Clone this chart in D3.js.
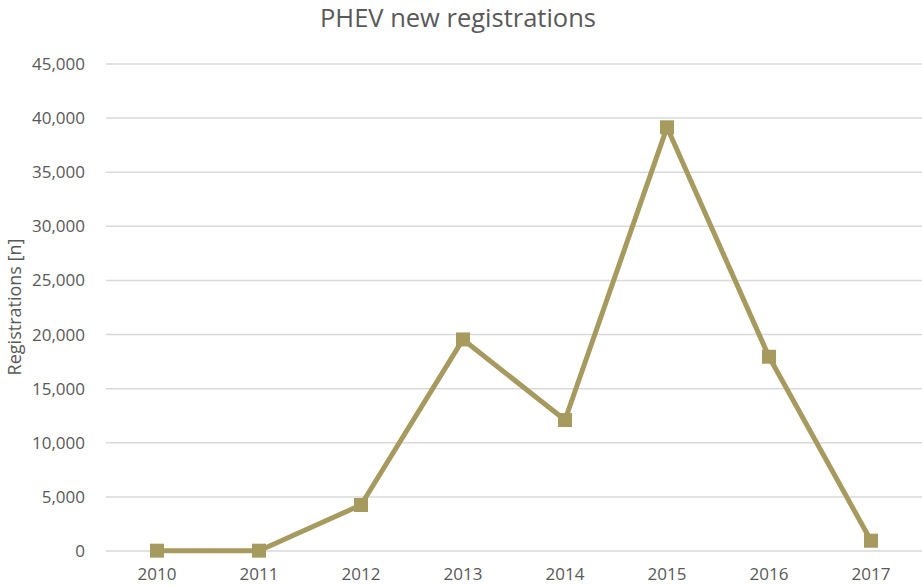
<!DOCTYPE html>
<html>
<head>
<meta charset="utf-8">
<script src="https://cdn.jsdelivr.net/npm/d3@7"></script>
<style>
  body { margin: 0; background: #fff; }
  svg { display: block; font-family: "Open Sans", "Noto Sans", sans-serif; }
  .tick text { fill: #595959; font-size: 17px; font-family: "Open Sans", "Noto Sans", sans-serif; }
</style>
</head>
<body>
<svg id="chart" width="922" height="587"></svg>
<script>
const years = ['2010', '2011', '2012', '2013', '2014', '2015', '2016', '2017'];
const registrations = [30, 30, 4250, 19550, 12100, 39150, 17950, 950];
const yTicks = [0, 5000, 10000, 15000, 20000, 25000, 30000, 35000, 40000, 45000];

const svg = d3.select('#chart');
const margin = {top: 64, right: 0, bottom: 36, left: 106};
const width = 922 - margin.left - margin.right;
const height = 587 - margin.top - margin.bottom;

const x = d3.scaleBand().domain(years).range([0, width]);
const y = d3.scaleLinear().domain([0, 45000]).range([height, 0]);

const g = svg.append('g').attr('transform', `translate(${margin.left},${margin.top})`);

// gridlines
g.selectAll('.grid')
  .data(yTicks)
  .enter().append('line')
    .attr('class', 'grid')
    .attr('x1', 0).attr('x2', width)
    .attr('y1', d => y(d)).attr('y2', d => y(d))
    .attr('stroke', '#d9d9d9')
    .attr('stroke-width', 1.5);

// y axis labels
const yAxis = g.append('g')
  .call(d3.axisLeft(y).tickValues(yTicks).tickSize(0).tickPadding(21).tickFormat(d3.format(',')));
yAxis.select('.domain').remove();

// x axis labels
const xAxis = g.append('g')
  .attr('transform', `translate(0,${height})`)
  .call(d3.axisBottom(x).tickSize(0).tickPadding(17));
xAxis.select('.domain').remove();

// title
svg.append('text')
  .attr('x', 458).attr('y', 27)
  .attr('text-anchor', 'middle')
  .attr('fill', '#595959')
  .style('font-size', '25.5px')
  .text('PHEV new registrations');

// y axis title
svg.append('text')
  .attr('transform', `translate(21,307) rotate(-90)`)
  .attr('text-anchor', 'middle')
  .attr('fill', '#595959')
  .style('font-size', '18px')
  .text('Registrations [n]');

const cx = d => x(d) + x.bandwidth() / 2;
const data = years.map((yr, i) => ({year: yr, value: registrations[i]}));

const line = d3.line().x(d => cx(d.year)).y(d => y(d.value));
g.append('path')
  .datum(data)
  .attr('fill', 'none')
  .attr('stroke', '#a69a5e')
  .attr('stroke-width', 5)
  .attr('stroke-linejoin', 'round')
  .attr('d', line);

g.selectAll('.marker')
  .data(data)
  .enter().append('rect')
    .attr('class', 'marker')
    .attr('x', d => cx(d.year) - 7)
    .attr('y', d => y(d.value) - 7)
    .attr('width', 14).attr('height', 14)
    .attr('fill', '#a69a5e');
</script>
</body>
</html>
